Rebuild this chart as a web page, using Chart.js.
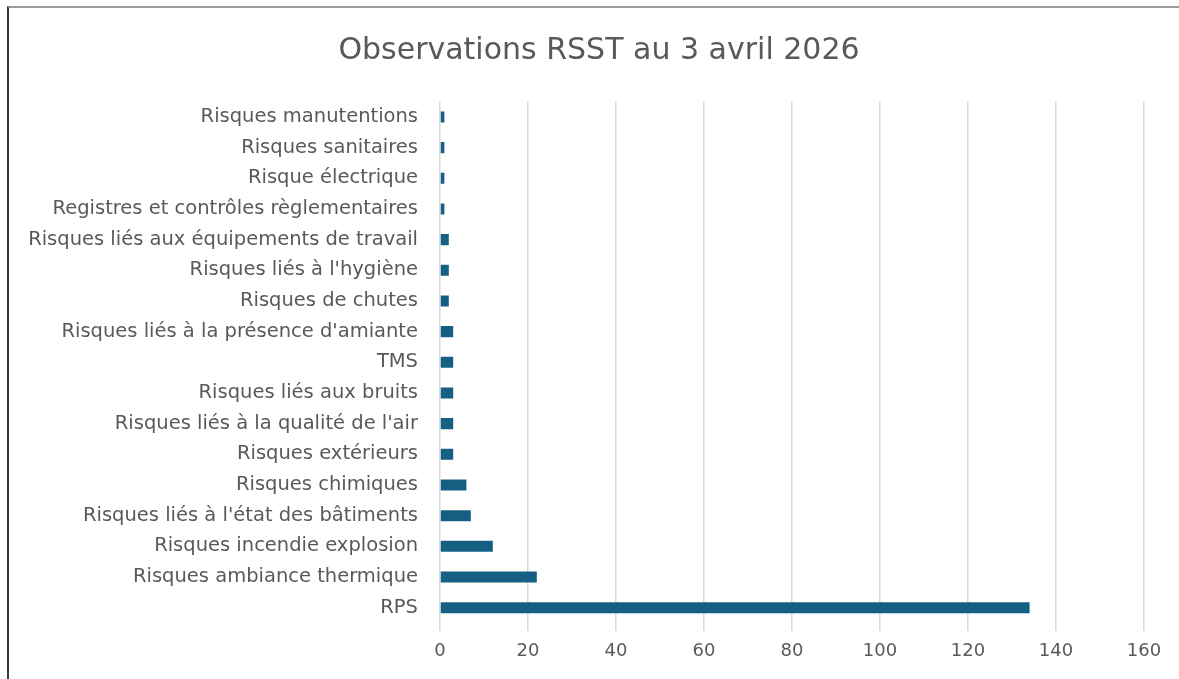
<!DOCTYPE html>
<html>
<head>
<meta charset="utf-8">
<script src="https://cdn.jsdelivr.net/npm/chart.js@4.4.1/dist/chart.umd.min.js"></script>
<style>
  html, body { margin: 0; padding: 0; background: #fff; }
  #wrap { position: relative; width: 1179px; height: 679px; }
  #frame {
    position: absolute; left: 7px; top: 6px; right: 0; bottom: 0;
    border-top: 2px solid #9a9a9a; border-left: 2px solid #3a3a3a;
    pointer-events: none;
  }
</style>
</head>
<body>
<div id="wrap">
  <canvas id="chart" width="1179" height="679"></canvas>
  <div id="frame"></div>
</div>
<script>
const categories = [
    "Risques manutentions",
    "Risques sanitaires",
    "Risque électrique",
    "Registres et contrôles règlementaires",
    "Risques liés aux équipements de travail",
    "Risques liés à l'hygiène",
    "Risques de chutes",
    "Risques liés à la présence d'amiante",
    "TMS",
    "Risques liés aux bruits",
    "Risques liés à la qualité de l'air",
    "Risques extérieurs",
    "Risques chimiques",
    "Risques liés à l'état des bâtiments",
    "Risques incendie explosion",
    "Risques ambiance thermique",
    "RPS"
];
const observations = [1, 1, 1, 1, 2, 2, 2, 3, 3, 3, 3, 3, 6, 7, 12, 22, 134];
const xTicks = [0, 20, 40, 60, 80, 100, 120, 140, 160];

const textColor = '#595959';
const fontFamily = "'DejaVu Sans', sans-serif";

// the original title sits a bit right of the canvas centre
const shiftTitle = {
    id: 'shiftTitle',
    afterLayout(chart) {
        if (!chart.titleBlock) return;
        chart.titleBlock.left += 22;
        chart.titleBlock.right += 22;
    }
};

const ctx = document.getElementById('chart').getContext('2d');

new Chart(ctx, {
    type: 'bar',
    data: {
        labels: categories,
        datasets: [{
            data: observations,
            backgroundColor: '#156082',
            borderWidth: 0,
            barPercentage: 0.36,
            categoryPercentage: 1
        }]
    },
    options: {
        indexAxis: 'y',
        responsive: false,
        animation: false,
        layout: { padding: { left: 10, right: 35, top: 10, bottom: 16 } },
        plugins: {
            legend: { display: false },
            tooltip: { enabled: false },
            title: {
                display: true,
                text: 'Observations RSST au 3 avril 2026',
                color: textColor,
                font: { family: fontFamily, size: 30, weight: 'normal' },
                padding: { top: 23, bottom: 32.6 }
            }
        },
        scales: {
            x: {
                min: 0,
                max: 160,
                afterBuildTicks: scale => {
                    scale.ticks = xTicks.map(v => ({ value: v }));
                },
                afterFit: scale => { scale.height = 40; },
                grid: { color: '#d9d9d9', lineWidth: 1.5, tickLength: 8, drawTicks: true },
                border: { display: false },
                ticks: {
                    color: textColor,
                    padding: 10,
                    font: { family: fontFamily, size: 18 }
                }
            },
            y: {
                afterFit: scale => { scale.width = 430; },
                grid: { display: false, drawTicks: false },
                border: { display: false },
                ticks: {
                    color: textColor,
                    padding: 22,
                    autoSkip: false,
                    font: { family: fontFamily, size: 19.5 }
                }
            }
        }
    },
    plugins: [shiftTitle]
});
</script>
</body>
</html>
